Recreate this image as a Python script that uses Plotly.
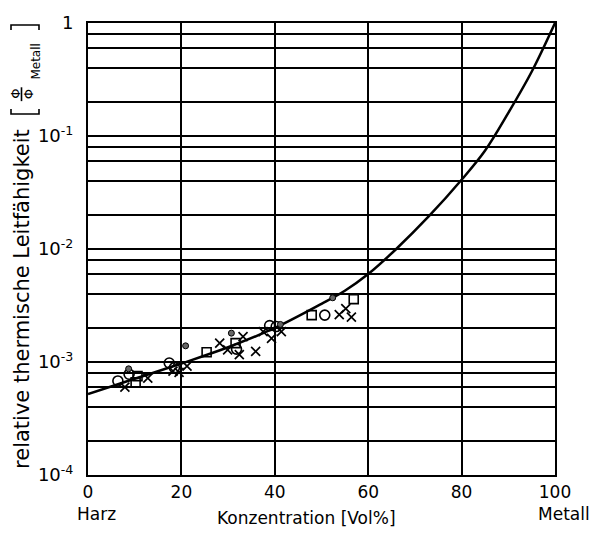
import plotly.graph_objects as go

# ---- data ----
curve_x = [0, 10, 20, 30, 40, 50, 55, 60, 66, 73, 80, 85, 90, 95, 100]
curve_y = [5.2e-4, 7.1e-4, 9.7e-4, 1.35e-3, 2.0e-3, 3.27e-3, 4.27e-3, 6.0e-3,
           1.0e-2, 1.95e-2, 4.1e-2, 7.4e-2, 0.16, 0.37, 1.0]

circle_x = [6.4, 8.8, 17.4, 18.5, 31.8, 38.9, 40.3, 50.7]
circle_y = [6.8e-4, 7.8e-4, 9.8e-4, 8.9e-4, 1.3e-3, 2.1e-3, 2.06e-3, 2.6e-3]

square_x = [10.2, 10.6, 25.4, 31.6, 47.9, 56.9]
square_y = [6.6e-4, 7.5e-4, 1.22e-3, 1.47e-3, 2.6e-3, 3.6e-3]

cross_x = [7.9, 12.8, 18.2, 19.5, 21.2, 28.2, 29.9, 32.4, 33.2, 35.9, 37.5, 39.3, 41.4, 53.8, 55.2, 56.4]
cross_y = [6.0e-4, 7.2e-4, 8.3e-4, 8.1e-4, 9.2e-4, 1.47e-3, 1.28e-3, 1.16e-3, 1.68e-3,
           1.24e-3, 1.86e-3, 1.62e-3, 1.86e-3, 2.63e-3, 2.97e-3, 2.5e-3]

dot_x = [8.7, 20.9, 30.7, 41.2, 52.4]
dot_y = [8.7e-4, 1.39e-3, 1.8e-3, 2.15e-3, 3.7e-3]

x_ticks = [0, 20, 40, 60, 80, 100]
y_grid = [m * 10.0 ** e for e in (-4, -3, -2, -1) for m in (1, 2, 4, 6, 8)] + [1.0]
y_labels = {1e-4: "10<sup>-4</sup>", 1e-3: "10<sup>-3</sup>", 1e-2: "10<sup>-2</sup>",
            1e-1: "10<sup>-1</sup>", 1.0: "1"}

x_title = "Konzentration [Vol%]"
y_title = "relative thermische Leitfähigkeit"
left_label = "Harz"
right_label = "Metall"

FONT = "DejaVu Sans, sans-serif"

# ---- geometry ----
W, H = 592, 535
L, R, T, B = 88, 37, 18, 60
PW, PH = W - L - R, H - T - B


def px(x):
    return (x - L) / PW


def py(y):
    return (H - B - y) / PH


fig = go.Figure()
fig.add_trace(go.Scatter(x=curve_x, y=curve_y, mode="lines",
                         line=dict(color="black", width=2.5, shape="spline", smoothing=1.0),
                         hoverinfo="skip", showlegend=False))
fig.add_trace(go.Scatter(x=circle_x, y=circle_y, mode="markers",
                         marker=dict(symbol="circle-open", size=10, color="black", line=dict(width=1.6)),
                         showlegend=False))
fig.add_trace(go.Scatter(x=square_x, y=square_y, mode="markers",
                         marker=dict(symbol="square-open", size=9, color="black", line=dict(width=1.6)),
                         showlegend=False))
fig.add_trace(go.Scatter(x=cross_x, y=cross_y, mode="markers",
                         marker=dict(symbol="x-thin-open", size=9, color="black", line=dict(width=1.7)),
                         showlegend=False))
fig.add_trace(go.Scatter(x=dot_x, y=dot_y, mode="markers",
                         marker=dict(symbol="circle", size=6, color="#666666",
                                     line=dict(color="black", width=1)),
                         showlegend=False))

fig.update_xaxes(range=[0, 100], tickvals=x_ticks, ticktext=[str(v) for v in x_ticks],
                 showgrid=True, gridcolor="black", gridwidth=1.6,
                 showline=True, mirror=True, linecolor="black", linewidth=2,
                 ticks="", zeroline=False, ticklabelstandoff=1,
                 tickfont=dict(family=FONT, size=17, color="black"))
fig.update_yaxes(type="log", range=[-4, 0], tickvals=y_grid,
                 ticktext=[y_labels.get(v, "") for v in y_grid],
                 showgrid=True, gridcolor="black", gridwidth=1.6,
                 showline=True, mirror=True, linecolor="black", linewidth=2,
                 ticks="", zeroline=False, ticklabelstandoff=9,
                 tickfont=dict(family=FONT, size=18, color="black"))

ann = []
ann.append(dict(text=left_label, x=px(96), y=py(514)))
ann.append(dict(text=right_label, x=px(564), y=py(514)))
ann.append(dict(text=x_title, x=px(306), y=py(518)))
ann.append(dict(text=y_title, x=px(22), y=py(297), textangle=-90,
                font=dict(family=FONT, size=21, color="black")))
ann.append(dict(text="Φ", x=px(15.5), y=py(90), textangle=-90,
                font=dict(family=FONT, size=13, color="black")))
ann.append(dict(text="Φ", x=px(28), y=py(90), textangle=-90,
                font=dict(family=FONT, size=13, color="black")))
ann.append(dict(text="Metall", x=px(36), y=py(57), textangle=-90,
                font=dict(family=FONT, size=12, color="black")))
for a in ann:
    a.update(xref="paper", yref="paper", showarrow=False, xanchor="center", yanchor="middle")
    a.setdefault("font", dict(family=FONT, size=17, color="black"))
fig.update_layout(annotations=ann)

shapes = []
line = dict(color="black", width=1.6)
# fraction bar
shapes.append(dict(type="line", x0=px(21.5), x1=px(21.5), y0=py(83), y1=py(97), line=line))
# brackets
for yb, tick in ((110, 105), (20, 25)):
    shapes.append(dict(type="path",
                       path=f"M {px(11)} {py(tick)} L {px(11)} {py(yb)} L {px(39)} {py(yb)} L {px(39)} {py(tick)}",
                       line=line))
for s in shapes:
    s.update(xref="paper", yref="paper")
fig.update_layout(shapes=shapes)

fig.update_layout(width=W, height=H, margin=dict(l=L, r=R, t=T, b=B),
                  paper_bgcolor="white", plot_bgcolor="white",
                  font=dict(family=FONT, color="black"))

fig.write_html("out.html")
